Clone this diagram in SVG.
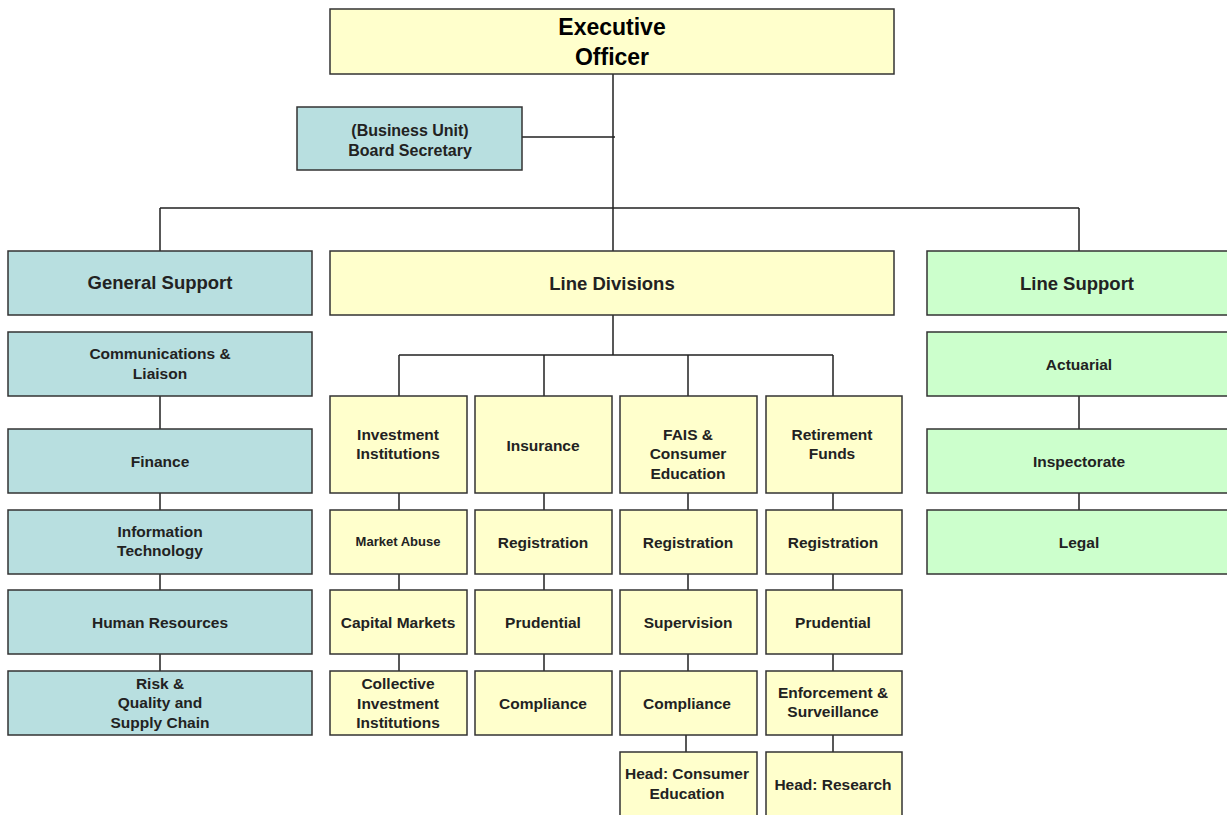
<svg xmlns="http://www.w3.org/2000/svg" width="1227" height="815" viewBox="0 0 1227 815">
<style>
rect{stroke:#333;stroke-width:1.5}
.y{fill:#ffffcc}.t{fill:#b8dfe0}.g{fill:#ccffcc}
text{font-family:"Liberation Sans",Arial,sans-serif;font-weight:bold;font-size:15.5px;fill:#222;text-anchor:middle}
.h{font-size:18.5px}.x{font-size:23px;fill:#000}.s{font-size:13px}.b{font-size:16px}
#connectors path{stroke:#222;stroke-width:1.5;fill:none}
</style>
<rect width="1227" height="815" fill="#fff" style="stroke:none"/>
<g id="connectors">
<path d="M613 74V251M522 137H615M160 208H1079M160 208V251M1079 208V251"/>
<path d="M160 396V429M160 493V510M160 574V590M160 654V671"/>
<path d="M1079 396V429M1079 493V510"/>
<path d="M613 315V355M399 355H833M399 355V396M544 355V396M688 355V396M833 355V396"/>
<path d="M399 493V510M399 574V590M399 654V671"/>
<path d="M544 493V510M544 574V590M544 654V671"/>
<path d="M688 493V510M688 574V590M688 654V671M686 735V752"/>
<path d="M833 493V510M833 574V590M833 654V671M833 735V752"/>
</g>
<g id="exec"><rect class="y" x="330" y="9" width="564" height="65"/><text class="x" x="612" y="35">Executive</text><text class="x" x="612" y="65">Officer</text></g>
<g id="boardsec"><rect class="t" x="297" y="107" width="225" height="63"/><text class="b" x="410" y="136">(Business Unit)</text><text class="b" x="410" y="156">Board Secretary</text></g>
<g id="gensup"><rect class="t" x="8" y="251" width="304" height="64"/><text class="h" x="160" y="289">General Support</text></g>
<g id="linediv"><rect class="y" x="330" y="251" width="564" height="64"/><text class="h" x="612" y="290">Line Divisions</text></g>
<g id="linesup"><rect class="g" x="927" y="251" width="302" height="64"/><text class="h" x="1077" y="290">Line Support</text></g>
<g id="comms"><rect class="t" x="8" y="332" width="304" height="64"/><text x="160" y="359">Communications &amp;</text><text x="160" y="379">Liaison</text></g>
<g id="finance"><rect class="t" x="8" y="429" width="304" height="64"/><text x="160" y="467">Finance</text></g>
<g id="it"><rect class="t" x="8" y="510" width="304" height="64"/><text x="160" y="537">Information</text><text x="160" y="556">Technology</text></g>
<g id="hr"><rect class="t" x="8" y="590" width="304" height="64"/><text x="160" y="628">Human Resources</text></g>
<g id="risk"><rect class="t" x="8" y="671" width="304" height="64"/><text x="160" y="689">Risk &amp;</text><text x="160" y="708">Quality and</text><text x="160" y="728">Supply Chain</text></g>
<g id="actuarial"><rect class="g" x="927" y="332" width="302" height="64"/><text x="1079" y="370">Actuarial</text></g>
<g id="inspectorate"><rect class="g" x="927" y="429" width="302" height="64"/><text x="1079" y="467">Inspectorate</text></g>
<g id="legal"><rect class="g" x="927" y="510" width="302" height="64"/><text x="1079" y="548">Legal</text></g>
<g id="invinst"><rect class="y" x="330" y="396" width="137" height="97"/><text x="398" y="440">Investment</text><text x="398" y="459">Institutions</text></g>
<g id="marketabuse"><rect class="y" x="330" y="510" width="137" height="64"/><text class="s" x="398" y="546">Market Abuse</text></g>
<g id="capmarkets"><rect class="y" x="330" y="590" width="137" height="64"/><text x="398" y="628">Capital Markets</text></g>
<g id="cis"><rect class="y" x="330" y="671" width="137" height="64"/><text x="398" y="689">Collective</text><text x="398" y="709">Investment</text><text x="398" y="728">Institutions</text></g>
<g id="insurance"><rect class="y" x="475" y="396" width="137" height="97"/><text x="543" y="451">Insurance</text></g>
<g id="ins-reg"><rect class="y" x="475" y="510" width="137" height="64"/><text x="543" y="548">Registration</text></g>
<g id="ins-pru"><rect class="y" x="475" y="590" width="137" height="64"/><text x="543" y="628">Prudential</text></g>
<g id="ins-comp"><rect class="y" x="475" y="671" width="137" height="64"/><text x="543" y="709">Compliance</text></g>
<g id="fais"><rect class="y" x="620" y="396" width="137" height="97"/><text x="688" y="440">FAIS &amp;</text><text x="688" y="459">Consumer</text><text x="688" y="479">Education</text></g>
<g id="fais-reg"><rect class="y" x="620" y="510" width="137" height="64"/><text x="688" y="548">Registration</text></g>
<g id="fais-sup"><rect class="y" x="620" y="590" width="137" height="64"/><text x="688" y="628">Supervision</text></g>
<g id="fais-comp"><rect class="y" x="620" y="671" width="137" height="64"/><text x="687" y="709">Compliance</text></g>
<g id="headce"><rect class="y" x="620" y="752" width="137" height="70"/><text x="687" y="779">Head: Consumer</text><text x="687" y="799">Education</text></g>
<g id="retfunds"><rect class="y" x="766" y="396" width="136" height="97"/><text x="832" y="440">Retirement</text><text x="832" y="459">Funds</text></g>
<g id="rf-reg"><rect class="y" x="766" y="510" width="136" height="64"/><text x="833" y="548">Registration</text></g>
<g id="rf-pru"><rect class="y" x="766" y="590" width="136" height="64"/><text x="833" y="628">Prudential</text></g>
<g id="rf-enf"><rect class="y" x="766" y="671" width="136" height="64"/><text x="833" y="698">Enforcement &amp;</text><text x="833" y="717">Surveillance</text></g>
<g id="headres"><rect class="y" x="766" y="752" width="136" height="70"/><text x="833" y="790">Head: Research</text></g>
</svg>
